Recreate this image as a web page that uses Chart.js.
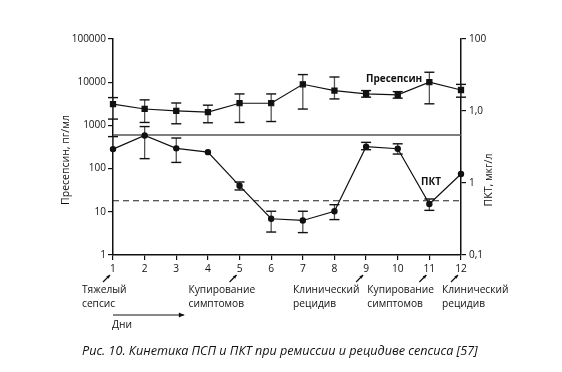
<!DOCTYPE html>
<html><head><meta charset="utf-8">
<script src="https://cdn.jsdelivr.net/npm/chart.js@4.4.1/dist/chart.umd.min.js"></script>
<style>html,body{margin:0;padding:0;background:#fff;}#wrap{position:relative;width:562px;height:372px;}</style>
</head><body><div id="wrap"><canvas id="c" width="562" height="372"></canvas></div>
<script>
// ---- data ----
const days = ['1','2','3','4','5','6','7','8','9','10','11','12'];
const presepsin   = [3100, 2400, 2170, 2030, 3260, 3260, 8950, 6400, 5350, 5100, 10000, 6600];
const presepsinHi = [4400, 3900, 3300, 2940, 5350, 5350, 15000, 13200, 6400, 6050, 17000, 8900];
const presepsinLo = [1400, 1170, 1090, 1150, 1170, 1230, 2390, 4100, 4500, 4270, 3160, 4500];
const pct   = [283, 585, 294, 240, 40, 6.9, 6.3, 10.3, 322, 288, 15.2, 75];
const pctHi = [550, 940, 510, null, 49, 10.3, 10.3, 14.6, 405, 375, 19.8, null];
const pctLo = [null, 170, 139, null, 32, 3.4, 3.3, 6.6, 274, 217, 10.8, null];
const presepsinCutoff = 600;
const pctCutoff = 18;
const leftTicks = [1, 10, 100, 1000, 10000, 100000];
const rightTicks = [0.1, 1, 10, 100];
const rightTickLabels = ['0,1', '1', '1,0', '100'];
const eventDays = ['1', '5', '9', '11', '12'];
const eventLine1 = ['Тяжелый', 'Купирование', 'Клинический', 'Купирование', 'Клинический'];
const eventLine2 = ['сепсис', 'симптомов', 'рецидив', 'симптомов', 'рецидив'];
const seriesNames = ['Пресепсин', 'ПКТ'];
const leftTitle = 'Пресепсин, пг/мл';
const rightTitle = 'ПКТ, мкг/л';
const daysLabel = 'Дни';
const caption = 'Рис. 10. Кинетика ПСП и ПКТ при ремиссии и рецидиве сепсиса [57]';

// ---- drawing ----
const FONT = "'Open Sans', sans-serif";
Chart.defaults.font.family = FONT;
Chart.defaults.color = '#111';
const INK = '#111';

const textOffsets = [-31, -51, -73, -62, -19];

function arrow(ctx, x1, y1, x2, y2, head) {
  ctx.beginPath(); ctx.moveTo(x1, y1); ctx.lineTo(x2, y2); ctx.stroke();
  const ang = Math.atan2(y2 - y1, x2 - x1);
  ctx.beginPath();
  ctx.moveTo(x2, y2);
  ctx.lineTo(x2 - head * Math.cos(ang - 0.45), y2 - head * Math.sin(ang - 0.45));
  ctx.lineTo(x2 - head * Math.cos(ang + 0.45), y2 - head * Math.sin(ang + 0.45));
  ctx.closePath(); ctx.fill();
}

const overlay = {
  id: 'overlay',
  beforeDatasetsDraw(chart) {
    const { ctx, chartArea: a, scales: { x, y } } = chart;
    ctx.save();
    let py = y.getPixelForValue(presepsinCutoff);
    ctx.strokeStyle = '#555'; ctx.lineWidth = 1.6;
    ctx.beginPath(); ctx.moveTo(a.left, py); ctx.lineTo(a.right, py); ctx.stroke();
    py = y.getPixelForValue(pctCutoff);
    ctx.strokeStyle = '#222'; ctx.lineWidth = 1.2; ctx.setLineDash([6, 4]);
    ctx.beginPath(); ctx.moveTo(a.left, py); ctx.lineTo(a.right, py); ctx.stroke();
    ctx.setLineDash([]);
    const bars = (vals, hi, lo) => {
      vals.forEach((v, i) => {
        const xp = x.getPixelForValue(i);
        const yp = y.getPixelForValue(v);
        [hi[i], lo[i]].forEach(e => {
          if (e == null) return;
          const ye = y.getPixelForValue(e);
          ctx.strokeStyle = '#555'; ctx.lineWidth = 1.3;
          ctx.beginPath(); ctx.moveTo(xp, yp); ctx.lineTo(xp, ye); ctx.stroke();
          ctx.strokeStyle = INK; ctx.lineWidth = 1.4;
          ctx.beginPath(); ctx.moveTo(xp - 5, ye); ctx.lineTo(xp + 5, ye); ctx.stroke();
        });
      });
    };
    bars(presepsin, presepsinHi, presepsinLo);
    bars(pct, pctHi, pctLo);
    ctx.restore();
  },
  afterDraw(chart) {
    const { ctx, scales: { x } } = chart;
    ctx.save();
    ctx.fillStyle = INK; ctx.strokeStyle = INK;
    ctx.font = "bold 10px " + FONT;
    ctx.textBaseline = 'middle'; ctx.textAlign = 'left';
    ctx.fillText(seriesNames[0], 366, 79);
    ctx.fillText(seriesNames[1], 421, 182);
    ctx.font = "10.5px " + FONT;
    ctx.textAlign = 'center';
    ctx.save(); ctx.translate(66, 160); ctx.rotate(-Math.PI / 2); ctx.fillText(leftTitle, 0, 0); ctx.restore();
    ctx.save(); ctx.translate(489, 180); ctx.rotate(-Math.PI / 2); ctx.fillText(rightTitle, 0, 0); ctx.restore();
    ctx.font = "10.2px " + FONT;
    ctx.textAlign = 'left';
    ctx.lineWidth = 1.2;
    eventDays.forEach((d, k) => {
      const xp = x.getPixelForValue(days.indexOf(d));
      arrow(ctx, xp - 10, 282, xp - 3, 275, 4);
      ctx.fillText(eventLine1[k], xp + textOffsets[k], 290);
      ctx.fillText(eventLine2[k], xp + textOffsets[k], 304);
    });
    const x0 = x.getPixelForValue(0);
    const x3 = x.getPixelForValue(2) + 8;
    arrow(ctx, x0, 315, x3, 315, 6);
    ctx.fillText(daysLabel, x0 - 1, 325);
    ctx.font = "italic 12.6px " + FONT;
    ctx.fillText(caption, 82, 351);
    ctx.restore();
  }
};

const axisCommon = {
  grid: { drawOnChartArea: false, drawTicks: true, tickLength: 5, color: INK, lineWidth: 1.2 },
  border: { color: INK, width: 1.5 },
};

new Chart(document.getElementById('c'), {
  type: 'line',
  data: {
    labels: days,
    datasets: [
      { label: seriesNames[0], data: presepsin, yAxisID: 'y', borderColor: INK, borderWidth: 1.2,
        pointStyle: 'rect', pointRadius: 3.6, pointBackgroundColor: INK, pointBorderColor: INK, tension: 0 },
      { label: seriesNames[1], data: pct, yAxisID: 'y', borderColor: INK, borderWidth: 1.2,
        pointStyle: 'circle', pointRadius: 2.6, pointBackgroundColor: INK, pointBorderColor: INK, tension: 0 }
    ]
  },
  options: {
    responsive: false, animation: false, devicePixelRatio: 1,
    layout: { padding: { top: 39, left: 0, right: 0, bottom: 0 } },
    plugins: { legend: { display: false }, tooltip: { enabled: false } },
    scales: {
      x: { type: 'category', offset: false, ...axisCommon,
        grid: { ...axisCommon.grid, offset: false },
        ticks: { font: { size: 10.2 }, color: INK, padding: 3, maxRotation: 0, autoSkip: false },
        afterFit(s) { s.height = 117; } },
      y: { type: 'logarithmic', position: 'left', min: 1, max: 100000, ...axisCommon,
        afterBuildTicks(s) { s.ticks = leftTicks.map(v => ({ value: v })); },
        ticks: { font: { size: 10 }, color: INK, padding: 2, callback: v => String(v) },
        afterFit(s) { s.width = 113; } },
      y2: { type: 'logarithmic', position: 'right', min: 0.1, max: 100, ...axisCommon,
        afterBuildTicks(s) { s.ticks = rightTicks.map(v => ({ value: v })); },
        ticks: { font: { size: 10 }, color: INK, padding: 3,
          callback: v => rightTickLabels[rightTicks.indexOf(v)] },
        afterFit(s) { s.width = 101; } }
    }
  },
  plugins: [overlay]
});
</script>
</body></html>
